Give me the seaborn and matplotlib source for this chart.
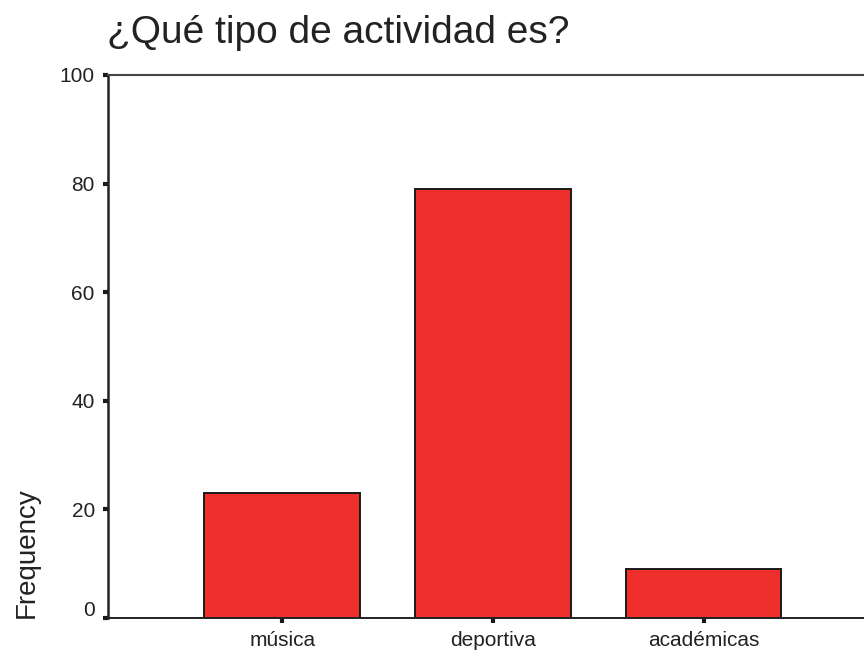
import matplotlib
matplotlib.use("Agg")
import matplotlib.pyplot as plt
import matplotlib.transforms as mtransforms
import seaborn as sns
import pandas as pd

categories = ["música", "deportiva", "académicas"]
frequencies = [23, 79, 9]
yticks = [0, 20, 40, 60, 80, 100]
title = "¿Qué tipo de actividad es?"
ylabel = "Frequency"

sns.set_style("white")
plt.rcParams["font.family"] = ["Liberation Sans", "DejaVu Sans"]
plt.rcParams["text.color"] = "#222222"

df = pd.DataFrame({"cat": categories, "freq": frequencies})

fig = plt.figure(figsize=(8.64, 6.55), dpi=100)
ax = fig.add_axes([108/864, 37/655, 1 - 108/864 + 0.002, (618 - 75)/655])

sns.barplot(data=df, x="cat", y="freq", color="#EF2F2C", saturation=1,
            edgecolor="#1a1a1a", linewidth=1.4, width=0.74, ax=ax)

ax.set_xlim(-0.827, 2.77)
ax.set_ylim(0, 100)
ax.set_yticks(yticks)
ax.set_yticklabels([str(t) for t in yticks])
ax.set_xlabel("")
ax.set_ylabel(ylabel, fontsize=20, loc="bottom", labelpad=14, color="#222222")

for side in ["left", "bottom", "top"]:
    ax.spines[side].set_visible(True)
    ax.spines[side].set_color("#222222")
    ax.spines[side].set_linewidth(1.8)
ax.spines["top"].set_color("#444444")
ax.spines["top"].set_linewidth(1.5)
ax.spines["bottom"].set_linewidth(1.4)
ax.spines["right"].set_visible(False)

ax.tick_params(axis="both", direction="out", length=3.5, width=3, color="#1a1a1a",
               labelsize=15, labelcolor="#222222", bottom=True, left=True)
ax.tick_params(axis="y", pad=6)
ax.tick_params(axis="x", pad=6)

# the zero label sits slightly above its tick in the reference
zero_lab = ax.get_yticklabels()[0]
zero_lab.set_transform(zero_lab.get_transform() +
                       mtransforms.ScaledTranslation(0, 10/100, fig.dpi_scale_trans))

fig.text(107/864, (655 - 43)/655, title, fontsize=28, ha="left", va="baseline",
         color="#222222")

fig.savefig("out.png", dpi=100)
